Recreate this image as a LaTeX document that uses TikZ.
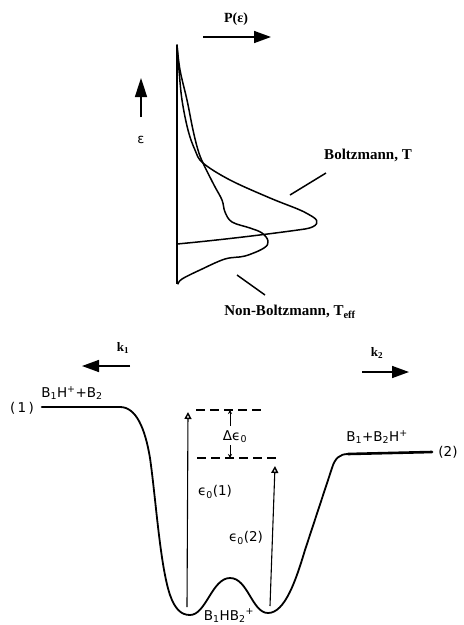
\documentclass[tikz,border=0pt]{standalone}
\usepackage{fontspec}
\setmainfont{Liberation Serif}
\newfontfamily\lett{DejaVu Sans}
\newfontfamily\dv{DejaVu Sans}
\usetikzlibrary{arrows.meta}
\tikzset{
  bigarrow/.style={line width=1.6pt,-{Triangle[length=17pt,width=12pt]}},
  openarrow/.style={line width=1.1pt,-{Triangle[open,length=7pt,width=7pt,line width=1.4pt]}},
  smallarrow/.style={line width=1pt,-{Stealth[length=4pt,width=4pt]}},
  curve/.style={line width=1.5pt,line join=round,line cap=round},
  dashline/.style={line width=1.6pt,dash pattern=on 9pt off 5pt},
  seriflab/.style={font=\fontsize{15}{17}\selectfont\bfseries,inner sep=0pt},
  klab/.style={font=\fontsize{13}{15}\selectfont\bfseries,inner sep=0pt},
  letlab/.style={font=\lett\fontsize{13.5}{16}\selectfont,inner sep=0pt},
}
\begin{document}
\begin{tikzpicture}[x=1pt,y=-1pt]
\useasboundingbox (0,0) rectangle (464,625);
% ---------- top: distributions ----------
\node[seriflab,font=\fontsize{14}{16}\selectfont\bfseries] (P) at (236,19) {P(ε)};
\coordinate (pa) at (203,37); \coordinate (pb) at (271,37);
\draw[bigarrow] (pa) -- (pb);
\coordinate (ea) at (141,117); \coordinate (eb) at (141,78);
\draw[bigarrow,-{Triangle[length=19pt,width=12pt]}] (ea) -- (eb);
\node[inner sep=0pt,font=\dv\fontsize{13}{15}\selectfont] (eps) at (141,140) {ε};
% axis
\coordinate (axtop) at (177,45); \coordinate (axbot) at (177,284);
\draw[line width=1.5pt] (axtop) -- (axbot);
% Boltzmann curve
\draw[curve] plot[smooth,tension=0.6] coordinates{
 (177,45) (179,70) (182,100) (188,130) (195,150) (203,163) (230,180) (270,198) (300,210) (313,217)}
 .. controls (320,221) and (318,227) .. (305,229)
 .. controls (270,234) and (220,240) .. (177,244);
% Non-Boltzmann curve
\draw[curve] plot[smooth,tension=0.6] coordinates{
 (177,45) (180,70) (187,100) (193,130) (198,150) (203,163) (214,185) (222,200) (225,212) (232,222) (250,228) (262,233) (268,241) (264,248) (245,256) (225,259) (200,270) (182,279) (178,284)};
% labels
\node[seriflab] (bol) at (368,155) {Boltzmann, T};
\coordinate (bl1) at (326,173); \coordinate (bl2) at (290,195);
\draw[line width=1.5pt] (bl1) -- (bl2);
\node[seriflab] (nbol) at (290,312) {Non-Boltzmann, T\textsubscript{eff}};
\coordinate (nl1) at (237,275); \coordinate (nl2) at (265,295);
\draw[line width=1.5pt] (nl1) -- (nl2);
% ---------- bottom: energy profile ----------
\node[klab] (k1) at (123,348) {k\textsubscript{1}};
\coordinate (k1a) at (130,366); \coordinate (k1b) at (82,366);
\draw[bigarrow] (k1a) -- (k1b);
\node[klab] (k2) at (377,353) {k\textsubscript{2}};
\coordinate (k2a) at (362,372); \coordinate (k2b) at (409,372);
\draw[bigarrow] (k2a) -- (k2b);
% profile
\draw[line width=2.6pt,line cap=round] (42,407) -- (120,407);
\draw[curve,line width=1.8pt] (120,407) .. controls (136,407) and (145,428) .. (150,458)
 .. controls (156,500) and (160,565) .. (170,595)
 .. controls (175,609) and (181,615) .. (190,615)
 .. controls (206,615) and (212,578) .. (230,578)
 .. controls (248,578) and (252,613) .. (268,613)
 .. controls (285,613) and (296,580) .. (305,550)
 -- (332,468) .. controls (335,458) and (340,454) .. (348,454);
\draw[line width=2.6pt,line cap=round] (348,454) -- (432,452);
% labels bottom
\node[letlab] (n1) at (22,408) {(\,1\,)};
\node[letlab] (r1) at (72,393) {B\textsubscript{1}H\textsuperscript{+}+B\textsubscript{2}};
\node[letlab] (n2) at (448,452) {(2)};
\node[letlab] (r2) at (377,437) {B\textsubscript{1}+B\textsubscript{2}H\textsuperscript{+}};
\node[letlab,anchor=base] (int) at (229,620) {B\textsubscript{1}HB\textsubscript{2}\textsuperscript{+}};
% energy arrows
\coordinate (e1a) at (187,607); \coordinate (e1b) at (188,412);
\draw[openarrow] (e1a) -- (e1b);
\coordinate (e2a) at (270,606); \coordinate (e2b) at (275,466);
\draw[openarrow] (e2a) -- (e2b);
\node[letlab] (e01) at (215,492) {{\dv ϵ}\textsubscript{0}(1)};
\node[letlab] (e02) at (246,538) {{\dv ϵ}\textsubscript{0}(2)};
% dashed levels
\coordinate (d1a) at (196,410); \coordinate (d1b) at (263,410);
\draw[dashline] (d1a) -- (d1b);
\coordinate (d2a) at (197,458); \coordinate (d2b) at (280,458);
\draw[dashline] (d2a) -- (d2b);
\node[letlab] (de) at (235,437) {Δ{\dv ϵ}\textsubscript{0}};
\coordinate (u1) at (230,426); \coordinate (u2) at (230,410);
\draw[smallarrow] (u1) -- (u2);
\coordinate (v1) at (230,445); \coordinate (v2) at (230,458);
\draw[smallarrow] (v1) -- (v2);
\end{tikzpicture}
\end{document}
